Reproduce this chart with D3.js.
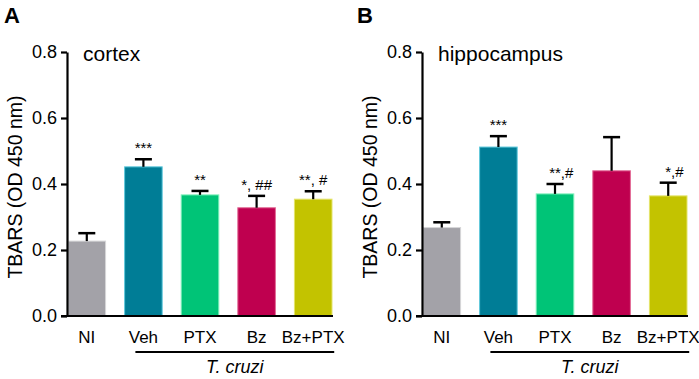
<!DOCTYPE html>
<html>
<head>
<meta charset="utf-8">
<script src="https://cdn.jsdelivr.net/npm/d3@7"></script>
<style>
  body { margin: 0; background: #fff; }
  svg { display: block; font-family: "Liberation Sans", Arial, sans-serif; }
</style>
</head>
<body>
<svg id="chart" width="699" height="379"></svg>
<script>
// groups and colours
let groups = ["NI", "Veh", "PTX", "Bz", "Bz+PTX"];
let colors = ["#a3a2a8", "#007d96", "#00c477", "#bf004f", "#c3c300"];
let edge_colors = ["#d6d6d8", "#5fc9dc", "#7ff0bb", "#e26a96", "#e4e46a"];
let y_ticks = [0, 0.2, 0.4, 0.6, 0.8];

// cortex (A)
let cortex_mean = [0.227, 0.452, 0.367, 0.328, 0.354];
let cortex_sem = [0.024, 0.023, 0.012, 0.036, 0.024];
let cortex_marks = ["", "***", "**", "*, ##", "**, #"];

// hippocampus (B)
let hippo_mean = [0.268, 0.512, 0.370, 0.440, 0.364];
let hippo_sem = [0.016, 0.033, 0.030, 0.102, 0.040];
let hippo_marks = ["", "***", "**,#", "", "*,#"];

let svg = d3.select("#chart");

function draw_panel(opt) {
    let g = svg.append("g");
    let y = d3.scaleLinear([0, 0.8], [316, 52]);
    let x = d3.scaleBand(groups, [opt.left + 1, opt.right]).paddingInner(0.336).paddingOuter(0);

    // panel letter
    g.append("text")
        .attr("x", opt.letter_x).attr("y", 23)
        .attr("font-size", 22).attr("font-weight", "bold")
        .text(opt.letter);

    // title inside the plot
    g.append("text")
        .attr("x", opt.left + opt.title_dx).attr("y", 61)
        .attr("font-size", 21)
        .text(opt.title);

    // bars
    g.selectAll(".bar")
        .data(opt.mean)
        .join("rect")
        .attr("class", "bar")
        .attr("x", (d, i) => x(groups[i]))
        .attr("y", d => y(d))
        .attr("width", x.bandwidth())
        .attr("height", d => y(0) - y(d))
        .attr("fill", (d, i) => colors[i])
        .attr("stroke", (d, i) => edge_colors[i])
        .attr("stroke-width", 1);

    // error bars (upper only)
    let cap = 17;
    opt.mean.forEach((m, i) => {
        let cx = x(groups[i]) + x.bandwidth() / 2;
        let top = y(m + opt.sem[i]);
        g.append("line")
            .attr("x1", cx).attr("x2", cx)
            .attr("y1", y(m)).attr("y2", top)
            .attr("stroke", "#000").attr("stroke-width", 2.2);
        g.append("line")
            .attr("x1", cx - cap / 2).attr("x2", cx + cap / 2)
            .attr("y1", top).attr("y2", top)
            .attr("stroke", "#000").attr("stroke-width", 2.5);

        // significance marks
        let s = opt.marks[i];
        if (s) {
            let t = g.append("text")
                .attr("y", top - 6)
                .attr("font-size", 15)
                .text(s);
            if (opt.mark_align == "stars") {
                // centre the stars over the bar, let ",#" hang to the right
                let tmp = g.append("text").attr("font-size", 15).text(s.split(",")[0]);
                let w = tmp.node().getComputedTextLength();
                tmp.remove();
                t.attr("x", cx - w / 2);
            } else {
                t.attr("x", cx).attr("text-anchor", "middle");
            }
        }
    });

    // y axis
    let yAxis = d3.axisLeft(y)
        .tickValues(y_ticks)
        .tickFormat(d3.format(".1f"))
        .tickSize(6)
        .tickSizeOuter(0)
        .tickPadding(4);
    let ya = g.append("g")
        .attr("transform", `translate(${opt.left},0)`)
        .call(yAxis);
    ya.select(".domain").attr("stroke-width", 2.2);
    ya.selectAll(".tick line").attr("stroke-width", 2.2);
    ya.selectAll(".tick text").attr("font-size", 18).attr("fill", "#000")
        .attr("font-family", "Liberation Sans, Arial, sans-serif");

    // x axis line
    g.append("line")
        .attr("x1", opt.left - 6).attr("x2", opt.right + 1)
        .attr("y1", y(0)).attr("y2", y(0))
        .attr("stroke", "#000").attr("stroke-width", 2.2);

    // category labels
    g.selectAll(".cat")
        .data(groups)
        .join("text")
        .attr("class", "cat")
        .attr("x", d => x(d) + x.bandwidth() / 2)
        .attr("y", 343)
        .attr("text-anchor", "middle")
        .attr("font-size", 17)
        .text(d => d);

    // T. cruzi bracket
    let lx1 = x("Veh") + x.bandwidth() / 2 - 8;
    let lx2 = x("Bz+PTX") + x.bandwidth() / 2 + 21;
    g.append("line")
        .attr("x1", lx1).attr("x2", lx2)
        .attr("y1", 352).attr("y2", 352)
        .attr("stroke", "#000").attr("stroke-width", 2);
    g.append("text")
        .attr("x", (lx1 + lx2) / 2).attr("y", 373)
        .attr("text-anchor", "middle")
        .attr("font-size", 18).attr("font-style", "italic")
        .text("T. cruzi");

    // y axis title
    g.append("text")
        .attr("transform", `translate(${opt.ylabel_x},187) rotate(-90)`)
        .attr("text-anchor", "middle")
        .attr("font-size", 19.5)
        .text("TBARS (OD 450 nm)");
}

draw_panel({
    letter: "A", letter_x: 4, title: "cortex", title_dx: 16,
    left: 67, right: 332, ylabel_x: 22,
    mean: cortex_mean, sem: cortex_sem, marks: cortex_marks, mark_align: "middle"
});

draw_panel({
    letter: "B", letter_x: 357, title: "hippocampus", title_dx: 16,
    left: 422, right: 687, ylabel_x: 377,
    mean: hippo_mean, sem: hippo_sem, marks: hippo_marks, mark_align: "stars"
});
</script>
</body>
</html>
